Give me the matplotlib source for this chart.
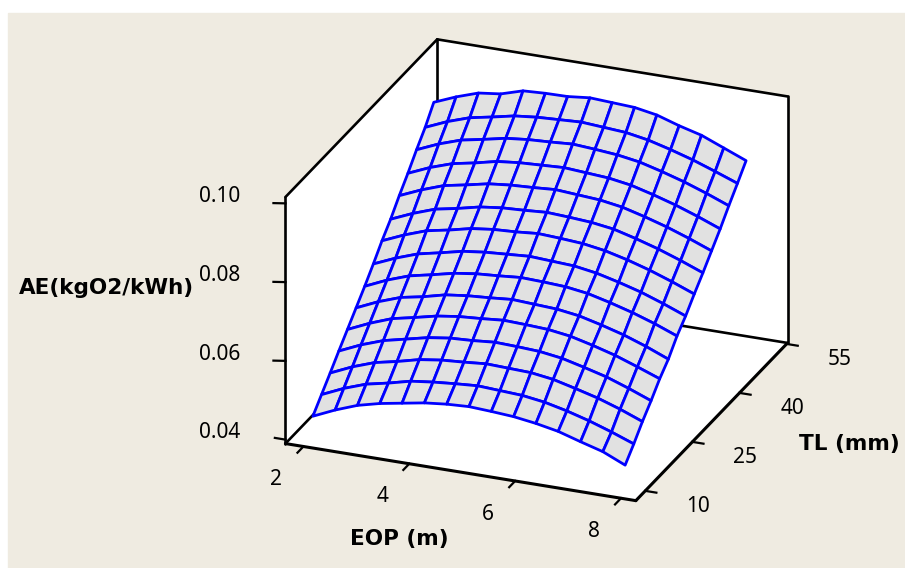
import numpy as np
import matplotlib
matplotlib.use("Agg")
import matplotlib.pyplot as plt
from matplotlib.patches import Rectangle
from mpl_toolkits.mplot3d import proj3d
from mpl_toolkits.mplot3d.art3d import Poly3DCollection

# axes ranges and ticks
eop_ticks = [2, 4, 6, 8]
tl_ticks = [10, 25, 40, 55]
ae_ticks = [0.04, 0.06, 0.08, 0.10]
ae_tick_labels = ["0.04", "0.06", "0.08", "0.10"]
eop_range = [1.66, 8.28]
tl_range = [7, 55.3]
ae_range = [0.039, 0.1016]

# surface grid, rows go with TL, columns with EOP
eop_grid = [2 + i * 5.9 / 14 for i in range(15)]
tl_grid = [10 + j * 38.5 / 14 for j in range(15)]
ae_values = [
    [.0442, .0467, .0488, .0502, .0512, .0522, .0528, .0531, .0528, .0524, .0516, .0505, .0488, .0472, .0447],
    [.0474, .0499, .0519, .0531, .0545, .0552, .0557, .0561, .0558, .0555, .0547, .0534, .0518, .0499, .0478],
    [.0506, .0531, .0551, .0563, .0577, .0585, .0589, .0594, .0592, .0590, .0582, .0568, .0553, .0534, .0512],
    [.0539, .0564, .0584, .0597, .0610, .0618, .0621, .0626, .0624, .0621, .0613, .0599, .0584, .0564, .0542],
    [.0571, .0596, .0617, .0629, .0642, .0650, .0654, .0659, .0657, .0654, .0646, .0632, .0616, .0596, .0575],
    [.0603, .0628, .0648, .0659, .0673, .0680, .0684, .0689, .0686, .0683, .0675, .0661, .0645, .0625, .0602],
    [.0635, .0660, .0680, .0692, .0705, .0713, .0717, .0722, .0720, .0717, .0709, .0695, .0679, .0660, .0638],
    [.0669, .0693, .0713, .0725, .0738, .0745, .0749, .0753, .0750, .0747, .0738, .0724, .0708, .0688, .0666],
    [.0705, .0729, .0749, .0760, .0773, .0780, .0783, .0788, .0785, .0781, .0772, .0758, .0741, .0721, .0699],
    [.0737, .0761, .0781, .0792, .0805, .0812, .0815, .0819, .0816, .0812, .0804, .0789, .0772, .0752, .0730],
    [.0774, .0798, .0818, .0829, .0841, .0847, .0850, .0854, .0850, .0846, .0837, .0822, .0805, .0785, .0763],
    [.0808, .0832, .0851, .0862, .0875, .0881, .0884, .0887, .0883, .0879, .0870, .0855, .0838, .0818, .0796],
    [.0845, .0869, .0888, .0899, .0911, .0917, .0920, .0924, .0920, .0915, .0906, .0891, .0874, .0854, .0832],
    [.0879, .0903, .0922, .0933, .0945, .0951, .0954, .0957, .0953, .0949, .0939, .0924, .0907, .0887, .0866],
    [.0920, .0943, .0962, .0969, .0986, .0989, .0990, .0996, .0993, .0990, .0980, .0962, .0947, .0924, .0901],
]

BEIGE = "#EFEBE1"
W, H = 905, 568

fig = plt.figure(figsize=(W / 100, H / 100), dpi=100, facecolor="white")
fig.add_artist(Rectangle((8 / W, 0), 1, 1 - 13 / H, transform=fig.transFigure, color=BEIGE, zorder=-5))

# axes box is forced square by mplot3d, keep it inside the figure and let the marks run over it
ax = fig.add_axes([251.5 / W, 13 / H, 555 / W, 555 / H], projection="3d", computed_zorder=False)
ax.patch.set_alpha(0)
ax.set_proj_type("ortho")
ax.view_init(elev=24.3, azim=-68.4)
ax.set_box_aspect((377.6, 413, 271), zoom=1.0725 * 560 / 555 * 1.003)
ax.set_axis_off()
x0, x1 = eop_range
y0, y1 = tl_range
z0, z1 = ae_range
ax.set_xlim(x0, x1, view_margin=0)
ax.set_ylim(y0, y1, view_margin=0)
ax.set_zlim(z0, z1, view_margin=0)


def put_label(x, y, z, s):
    # projected once so the text stays a plain 2D label
    px, py, _ = proj3d.proj_transform(x, y, z, ax.get_proj())
    ax.text2D(px, py, s, transform=ax.transData, fontsize=15, family="Noto Sans",
              ha="center", va="center", zorder=5, clip_on=False)


# white floor and back walls
walls = [
    [(x0, y0, z0), (x1, y0, z0), (x1, y1, z0), (x0, y1, z0)],
    [(x0, y1, z0), (x1, y1, z0), (x1, y1, z1), (x0, y1, z1)],
    [(x0, y0, z0), (x0, y1, z0), (x0, y1, z1), (x0, y0, z1)],
]
pc = Poly3DCollection(walls, facecolor="white", edgecolor="none", zorder=1)
pc.set_clip_on(False)
ax.add_collection3d(pc)

box_lines = [
    [(x0, y1, z0), (x1, y1, z0)],
    [(x0, y0, z0), (x0, y1, z0)],
    [(x0, y1, z0), (x0, y1, z1)],
    [(x0, y1, z1), (x1, y1, z1)],
    [(x0, y0, z1), (x0, y1, z1)],
    [(x1, y1, z0), (x1, y1, z1)],
    [(x0, y0, z0), (x0, y0, z1)],
]
for a, b in box_lines:
    ax.plot(*zip(a, b), color="black", lw=1.9, zorder=2, solid_capstyle="round", clip_on=False)

X, Y = np.meshgrid(eop_grid, tl_grid)
surf = ax.plot_surface(X, Y, np.array(ae_values), rstride=1, cstride=1, color="#E1E1E1", shade=False,
                       edgecolor="#0000FF", linewidth=2.0, antialiased=True, zorder=3)
surf.set_clip_on(False)

# front edges sit on top of the surface
for a, b in [[(x0, y0, z0), (x1, y0, z0)], [(x1, y0, z0), (x1, y1, z0)]]:
    ax.plot(*zip(a, b), color="black", lw=2.2, zorder=4, solid_capstyle="round", clip_on=False)

# ticks
for e in eop_ticks:
    ax.plot([e, e], [y0, y0 - 1.9], [z0, z0], color="black", lw=1.6, zorder=4, clip_on=False)
    put_label(e, y0 - 8.6, z0 - 0.0013, str(e))
for t in tl_ticks:
    ax.plot([x1, x1 + 0.21], [t, t], [z0, z0], color="black", lw=1.6, zorder=4, clip_on=False)
    put_label(x1 + 1.0, t, z0 - 0.0017, str(t))
for v, lab in zip(ae_ticks, ae_tick_labels):
    # the lowest tick runs along the floor edge, the others are level
    dy = 0 if v == ae_ticks[0] else 0.45
    ax.plot([x0, x0 - 0.2], [y0, y0 - dy], [v, v], color="black", lw=1.6, zorder=4, clip_on=False)
    put_label(x0 - 1.24, y0, v - 0.001, lab)

label_style = dict(fontsize=15.5, fontweight="bold", family="DejaVu Sans", ha="center", va="center")
fig.text(106 / W, 1 - 288 / H, "AE(kgO2/kWh)", **label_style)
fig.text(399 / W, 1 - 539 / H, "EOP (m)", **label_style)
fig.text(849 / W, 1 - 444 / H, "TL (mm)", **label_style)

fig.savefig("out.png", dpi=100, facecolor=fig.get_facecolor())
